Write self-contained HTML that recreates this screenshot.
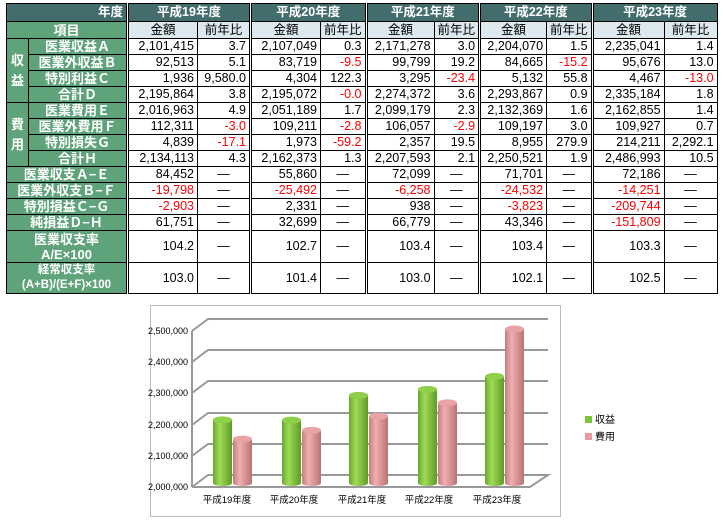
<!DOCTYPE html>
<html><head><meta charset="utf-8">
<style>
body{margin:0;background:#fff;width:723px;height:528px;position:relative;overflow:hidden;font-family:"Liberation Sans","Noto Sans CJK JP",sans-serif;}
table{position:absolute;left:6px;top:3px;border-collapse:collapse;table-layout:fixed;font-size:12.5px;}
td{border:1px solid #000;padding:0 3px;white-space:nowrap;overflow:hidden;height:15px;line-height:15px;}
.h{background:#436c6c;color:#fff;font-weight:bold;text-align:center;}
.hr{background:#436c6c;color:#fff;font-weight:bold;text-align:right;}
.g{background:#5fa37b;color:#fff;font-weight:bold;text-align:center;font-size:13px;}
.b{background:#dde9ef;text-align:center;}
.n{text-align:right;}
.r{color:#f00;}
.c{text-align:center;}
.gl{border-left:3px double #000;}
</style></head><body>
<table>
<colgroup><col style="width:22px"><col style="width:99px"><col style="width:70px"><col style="width:53px"><col style="width:70px"><col style="width:44px"><col style="width:68px"><col style="width:41px"><col style="width:67px"><col style="width:41px"><col style="width:72px"><col style="width:53px"></colgroup>
<tr style="height:18px"><td colspan="2" class="hr">年度</td><td colspan="2" class="h gl">平成19年度</td><td colspan="2" class="h gl">平成20年度</td><td colspan="2" class="h gl">平成21年度</td><td colspan="2" class="h gl">平成22年度</td><td colspan="2" class="h gl">平成23年度</td></tr>
<tr style="height:17px"><td colspan="2" class="g">項目</td><td class="b gl">金額</td><td class="b">前年比</td><td class="b gl">金額</td><td class="b">前年比</td><td class="b gl">金額</td><td class="b">前年比</td><td class="b gl">金額</td><td class="b">前年比</td><td class="b gl">金額</td><td class="b">前年比</td></tr>
<tr><td rowspan="4" class="g" style="line-height:20px;white-space:normal">収<br>益</td><td class="g">医業収益Ａ</td><td class="n gl">2,101,415</td><td class="n">3.7</td><td class="n gl">2,107,049</td><td class="n">0.3</td><td class="n gl">2,171,278</td><td class="n">3.0</td><td class="n gl">2,204,070</td><td class="n">1.5</td><td class="n gl">2,235,041</td><td class="n">1.4</td></tr>
<tr><td class="g">医業外収益Ｂ</td><td class="n gl">92,513</td><td class="n">5.1</td><td class="n gl">83,719</td><td class="n r">-9.5</td><td class="n gl">99,799</td><td class="n">19.2</td><td class="n gl">84,665</td><td class="n r">-15.2</td><td class="n gl">95,676</td><td class="n">13.0</td></tr>
<tr><td class="g">特別利益Ｃ</td><td class="n gl">1,936</td><td class="n">9,580.0</td><td class="n gl">4,304</td><td class="n">122.3</td><td class="n gl">3,295</td><td class="n r">-23.4</td><td class="n gl">5,132</td><td class="n">55.8</td><td class="n gl">4,467</td><td class="n r">-13.0</td></tr>
<tr><td class="g">合計Ｄ</td><td class="n gl">2,195,864</td><td class="n">3.8</td><td class="n gl">2,195,072</td><td class="n r">-0.0</td><td class="n gl">2,274,372</td><td class="n">3.6</td><td class="n gl">2,293,867</td><td class="n">0.9</td><td class="n gl">2,335,184</td><td class="n">1.8</td></tr>
<tr><td rowspan="4" class="g" style="line-height:20px;white-space:normal">費<br>用</td><td class="g">医業費用Ｅ</td><td class="n gl">2,016,963</td><td class="n">4.9</td><td class="n gl">2,051,189</td><td class="n">1.7</td><td class="n gl">2,099,179</td><td class="n">2.3</td><td class="n gl">2,132,369</td><td class="n">1.6</td><td class="n gl">2,162,855</td><td class="n">1.4</td></tr>
<tr><td class="g">医業外費用Ｆ</td><td class="n gl">112,311</td><td class="n r">-3.0</td><td class="n gl">109,211</td><td class="n r">-2.8</td><td class="n gl">106,057</td><td class="n r">-2.9</td><td class="n gl">109,197</td><td class="n">3.0</td><td class="n gl">109,927</td><td class="n">0.7</td></tr>
<tr><td class="g">特別損失Ｇ</td><td class="n gl">4,839</td><td class="n r">-17.1</td><td class="n gl">1,973</td><td class="n r">-59.2</td><td class="n gl">2,357</td><td class="n">19.5</td><td class="n gl">8,955</td><td class="n">279.9</td><td class="n gl">214,211</td><td class="n">2,292.1</td></tr>
<tr><td class="g">合計Ｈ</td><td class="n gl">2,134,113</td><td class="n">4.3</td><td class="n gl">2,162,373</td><td class="n">1.3</td><td class="n gl">2,207,593</td><td class="n">2.1</td><td class="n gl">2,250,521</td><td class="n">1.9</td><td class="n gl">2,486,993</td><td class="n">10.5</td></tr>
<tr><td colspan="2" class="g">医業収支Ａ−Ｅ</td><td class="n gl">84,452</td><td class="c">—</td><td class="n gl">55,860</td><td class="c">—</td><td class="n gl">72,099</td><td class="c">—</td><td class="n gl">71,701</td><td class="c">—</td><td class="n gl">72,186</td><td class="c">—</td></tr>
<tr><td colspan="2" class="g">医業外収支Ｂ−Ｆ</td><td class="n gl r">-19,798</td><td class="c">—</td><td class="n gl r">-25,492</td><td class="c">—</td><td class="n gl r">-6,258</td><td class="c">—</td><td class="n gl r">-24,532</td><td class="c">—</td><td class="n gl r">-14,251</td><td class="c">—</td></tr>
<tr><td colspan="2" class="g">特別損益Ｃ−Ｇ</td><td class="n gl r">-2,903</td><td class="c">—</td><td class="n gl">2,331</td><td class="c">—</td><td class="n gl">938</td><td class="c">—</td><td class="n gl r">-3,823</td><td class="c">—</td><td class="n gl r">-209,744</td><td class="c">—</td></tr>
<tr><td colspan="2" class="g">純損益Ｄ−Ｈ</td><td class="n gl">61,751</td><td class="c">—</td><td class="n gl">32,699</td><td class="c">—</td><td class="n gl">66,779</td><td class="c">—</td><td class="n gl">43,346</td><td class="c">—</td><td class="n gl r">-151,809</td><td class="c">—</td></tr>
<tr style="height:32px"><td colspan="2" class="g" style="line-height:15px">医業収支率<br>A/E×100</td><td class="n gl">104.2</td><td class="c">—</td><td class="n gl">102.7</td><td class="c">—</td><td class="n gl">103.4</td><td class="c">—</td><td class="n gl">103.4</td><td class="c">—</td><td class="n gl">103.3</td><td class="c">—</td></tr>
<tr style="height:31px"><td colspan="2" class="g" style="line-height:15px;font-size:11.5px">経常収支率<br>(A+B)/(E+F)×100</td><td class="n gl">103.0</td><td class="c">—</td><td class="n gl">101.4</td><td class="c">—</td><td class="n gl">103.0</td><td class="c">—</td><td class="n gl">102.1</td><td class="c">—</td><td class="n gl">102.5</td><td class="c">—</td></tr>
</table>

<svg style="position:absolute;left:0;top:0" width="723" height="528">
<defs>
<linearGradient id="gg" x1="0" x2="1"><stop offset="0" stop-color="#6aa82e"/><stop offset="0.35" stop-color="#9fdc55"/><stop offset="1" stop-color="#5f9a28"/></linearGradient>
<linearGradient id="pg" x1="0" x2="1"><stop offset="0" stop-color="#c27f80"/><stop offset="0.35" stop-color="#f0aeb0"/><stop offset="1" stop-color="#b87475"/></linearGradient>
</defs>
<rect x="150.5" y="305.5" width="410" height="211" fill="#fff" stroke="#bbb"/>
<g stroke="#999" stroke-width="2" fill="none">
<polyline points="192,331 208,319 548,319"/>
<polyline points="192,362 208,350 548,350"/>
<polyline points="192,393 208,381 548,381"/>
<polyline points="192,425 208,413 548,413"/>
<polyline points="192,456 208,444 548,444"/>
<polyline points="192,487 208,475 548,475 530,487 192,487"/>
<line x1="192" y1="331" x2="192" y2="487"/>
</g>
<g font-size="9" fill="#000" text-anchor="end">
<text x="188" y="334">2,500,000</text><text x="188" y="365">2,400,000</text><text x="188" y="396">2,300,000</text><text x="188" y="428">2,200,000</text><text x="188" y="459">2,100,000</text><text x="188" y="490">2,000,000</text>
</g>
<g font-size="9.5" fill="#000" text-anchor="middle">
<text x="227" y="503">平成19年度</text><text x="294" y="503">平成20年度</text><text x="362" y="503">平成21年度</text><text x="429" y="503">平成22年度</text><text x="497" y="503">平成23年度</text>
</g>
<g id="bars"></g>
<rect x="585" y="416" width="7" height="7" fill="#7cc43c"/><text x="595" y="423" font-size="10">収益</text>
<rect x="585" y="433" width="7" height="7" fill="#e89a9c"/><text x="595" y="440" font-size="10">費用</text>
</svg>
<script>
var d=[[2195864,2134113],[2195072,2162373],[2274372,2207593],[2293867,2250521],[2335184,2486993]];
var xs=[213,282,349,418,485],s='';
d.forEach(function(v,i){[0,1].forEach(function(k){var x=xs[i]+k*20,w=19,top=487-(v[k]-2000000)/100000*31.2-6,b=483;
var f=k?'url(#pg)':'url(#gg)',tc=k?'#e7a3a5':'#8fd04a';
s+='<path d="M'+x+','+top+' V'+b+' A'+w/2+',3 0 0 0 '+(x+w)+','+b+' V'+top+' Z" fill="'+f+'"/>';
s+='<ellipse cx="'+(x+w/2)+'" cy="'+top+'" rx="'+w/2+'" ry="3.5" fill="'+tc+'"/>';});});
document.getElementById('bars').innerHTML=s;
</script>
</body></html>
